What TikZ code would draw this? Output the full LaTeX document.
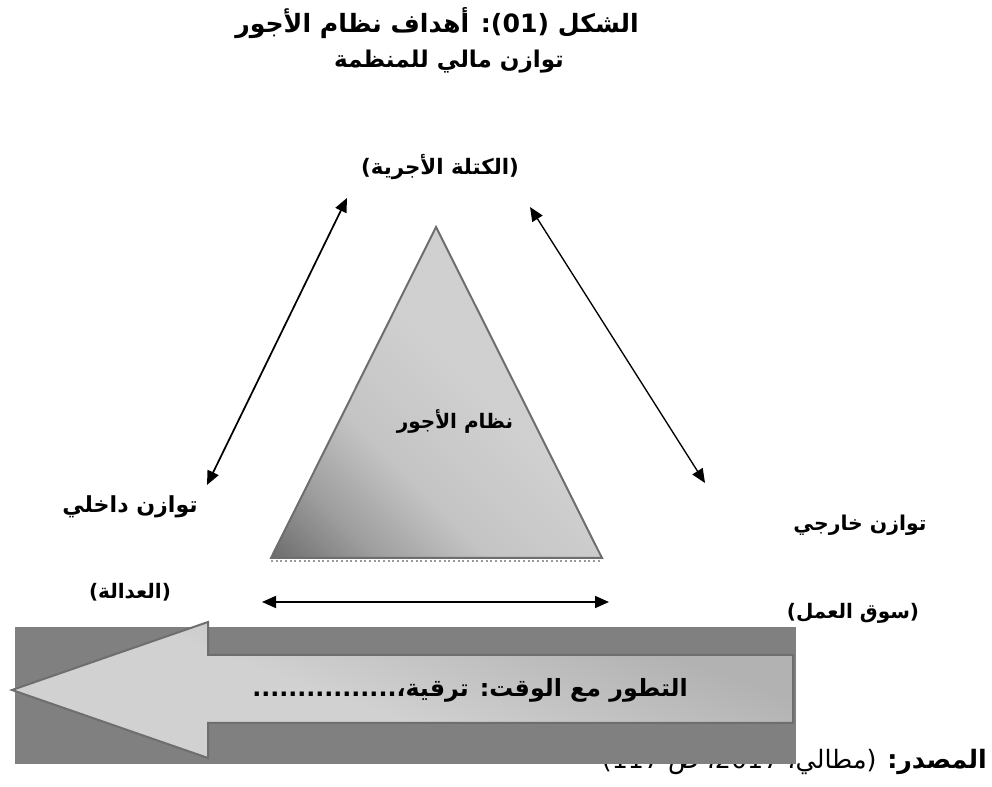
\documentclass[tikz,border=0pt]{standalone}
\usepackage{fontspec}
\usetikzlibrary{arrows.meta}
\TeXXeTstate=1
\newfontfamily\arabicfont[Script=Arabic]{DejaVu Sans}
\definecolor{boxgray}{HTML}{808080}
\definecolor{edgegray}{HTML}{6E6E6E}
\definecolor{darkgray2}{HTML}{6A6A6A}
\definecolor{lightgray2}{HTML}{D0D0D0}
\definecolor{midgray2}{HTML}{C4C4C4}
\pgfdeclareverticalshading{trishade}{100bp}{color(0bp)=(lightgray2); color(45bp)=(lightgray2); color(62bp)=(midgray2); color(74bp)=(black!38); color(86bp)=(darkgray2); color(100bp)=(darkgray2)}
\pgfdeclareverticalshading{arrowshade}{100bp}{color(0bp)=(black!30); color(30bp)=(black!30); color(55bp)=(black!18); color(100bp)=(black!18)}
\newcommand{\fs}[1]{\fontsize{#1}{#1}\selectfont}
\begin{document}
\begin{tikzpicture}[x=0.75pt,y=0.75pt,
  lbl/.style={font=\arabicfont\bfseries, inner sep=0pt},
  src/.style={font=\arabicfont\fs{19}, inner sep=0pt},
  dbl/.style={{Triangle[length=10.5pt,width=9pt]}-{Triangle[length=10.5pt,width=9pt]}, line width=1.3pt},
  dblthin/.style={{Triangle[length=10.5pt,width=9pt]}-{Triangle[length=10.5pt,width=9pt]}, line width=1pt}]
\useasboundingbox (0,0) rectangle (992,787);
% texts
\node[lbl, font=\arabicfont\bfseries\fs{18.9}] (title) at (437,764) {\beginR الشكل (01): أهداف نظام الأجور\endR};
\node[lbl, font=\arabicfont\bfseries\fs{17.3}] (fin) at (449,725) {\beginR توازن مالي للمنظمة\endR};
\node[lbl, font=\arabicfont\bfseries\fs{16}] (mass) at (440,620) {\beginR (الكتلة الأجرية)\endR};
\node[lbl, font=\arabicfont\bfseries\fs{16.6}] (intl) at (130,280) {\beginR توازن داخلي\endR};
\node[lbl, font=\arabicfont\bfseries\fs{15}] (just) at (130,195) {\beginR (العدالة)\endR};
\node[lbl, font=\arabicfont\bfseries\fs{15.3}] (extl) at (860,262) {\beginR توازن خارجي\endR};
\node[lbl, font=\arabicfont\bfseries\fs{15}] (mkt) at (853,174) {\beginR (سوق العمل)\endR};
\node[src, anchor=east] (source) at (987,25) {\beginR{\bfseries المصدر:} (مطالي، 2017، ص 117)\endR};
% triangle
\coordinate (apex) at (436,560);
\coordinate (bl) at (271,229);
\coordinate (br) at (602,229);
\shade[shading=trishade, shading angle=135] (bl) -- (apex) -- (br) -- cycle;
\draw[edgegray, line width=1.5pt, line join=miter] (bl) -- (apex) -- (br) -- cycle;
\draw[edgegray!70, line width=1.5pt, dotted] ([yshift=-2]bl) -- ([yshift=-2]br);
\node[lbl, font=\arabicfont\bfseries\fs{15}] (wage) at (455,365) {\beginR نظام الأجور\endR};
% double arrows
\coordinate (la) at (347,589);
\coordinate (lb) at (207,302);
\coordinate (ra) at (530,580);
\coordinate (rb) at (705,304);
\coordinate (ba) at (262,185);
\coordinate (bb) at (609,185);
\draw[dbl] (la) -- (lb);
\draw[dblthin] (ra) -- (rb);
\draw[dbl] (ba) -- (bb);
% big arrow band
\fill[boxgray] (15,23) rectangle (796,160);
\shade[shading=arrowshade, shading angle=160]
  (12,97) -- (208,165) -- (208,132) -- (793,132) -- (793,64) -- (208,64) -- (208,29) -- cycle;
\draw[edgegray, line width=1.5pt, line join=miter] (12,97) -- (208,165) -- (208,132) -- (793,132) -- (793,64) -- (208,64) -- (208,29) -- cycle;
\node[lbl, font=\arabicfont\bfseries\fs{17.8}] (evo) at (470,97) {\beginR التطور مع الوقت: ترقية،................\endR};
\end{tikzpicture}
\end{document}
